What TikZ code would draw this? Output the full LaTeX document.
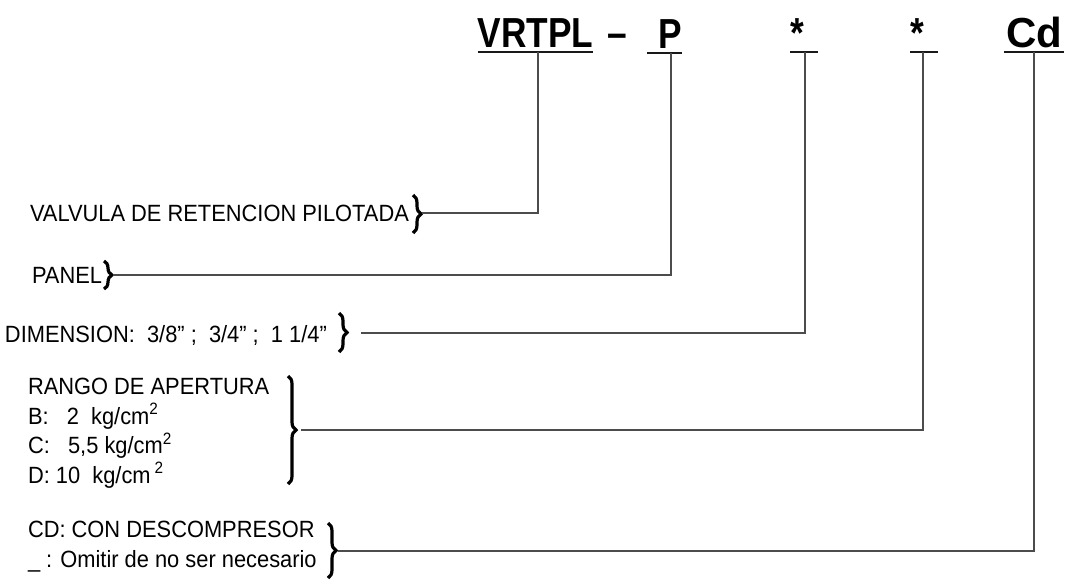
\documentclass[tikz,border=0pt]{standalone}
\usepackage{fontspec}
\setmainfont{Liberation Sans}[FakeStretch=0.93]
\newfontfamily\codefont{Liberation Sans}[FakeStretch=0.84]
\newfontfamily\cdfont{Liberation Sans}
\usetikzlibrary{decorations.pathreplacing}

\begin{document}
\begin{tikzpicture}[x=1pt, y=-1pt,
    every node/.style={inner sep=0pt, outer sep=0pt},
    code/.style ={anchor=south, text depth=0pt, inner ysep=5pt,
                  font=\codefont\bfseries\fontsize{42}{42}\selectfont},
    lbl/.style  ={anchor=base west, align=left,
                  font=\fontsize{23.5}{29.5}\selectfont},
    uline/.style={draw=black!90, line width=2pt},
    conn/.style ={draw=black!70, line width=1.1pt},
    brc/.style  ={decorate, decoration={brace, amplitude=8pt}, line width=3.2pt}]

\useasboundingbox (0,0) rectangle (1065,579);

% ── code: VRTPL - P * * Cd ─────────────────────────────────────────────
\node[code, minimum width=115pt] (vrtpl) at (535.5,52) {VRTPL};
\node[code] (dash) at (617,52) {\textendash};
\node[code, text width=35pt, align=right] (pan) at (664.5,53) {P};
\node[code, text width=28pt, align=left] (dimc) at (804,52) {*};
\node[code, text width=28pt, align=left] (rngc) at (924,52) {*};
\node[code, minimum width=60pt, font=\cdfont\bfseries\fontsize{42}{42}\selectfont]
  (cdc) at (1034,52) {Cd};

\foreach \n in {vrtpl,pan,dimc,rngc,cdc}
  \draw[uline] (\n.south west) -- (\n.south east);

% ── options (multi-line nodes sit on their last baseline) ──────────────
\node[lbl] (valv)  at (30,221) {VALVULA DE RETENCION PILOTADA};
\node[lbl] (panel) at (32,283) {PANEL};
\node[lbl] (dim)   at (5,342)  {DIMENSION:\ \ 3/8” ;\ \ 3/4” ;\ \ 1 1/4”};
\node[lbl] (rango) at (28,483)
  {RANGO DE APERTURA\\B:\ \ \ 2\ \ kg/cm\textsuperscript{2}\\
   C:\ \ \ 5,5 kg/cm\textsuperscript{2}\\D: 10\ \ kg/cm\,\textsuperscript{2}};
\node[lbl, font=\fontsize{23.5}{30}\selectfont] (cdopt) at (28,567)
  {CD: CON DESCOMPRESOR\\\_ : Omitir de no ser necesario};

% braces and where each leader starts
\draw[brc] (413,195) -- (413,233);  \coordinate (tValv)  at (422,213);
\draw[brc] (104,261) -- (104,289);  \coordinate (tPanel) at (113,275);
\draw[brc] (339,313) -- (339,352);  \coordinate (tDim)   at (361,333);
\draw[brc] (288,376) -- (288,484);  \coordinate (tRango) at (301,430);
\draw[brc] (328,523) -- (328,578);  \coordinate (tCd)    at (338,551);

% ── leaders ─────────────────────────────────────────────────────────────
\draw[conn] (tValv)  -| ([xshift=2.5pt]vrtpl.south);
\draw[conn] (tPanel) -| ([xshift=6.5pt]pan.south);
\draw[conn] (tDim)   -| ([xshift=1pt]dimc.south);
\draw[conn] (tRango) -| ([xshift=-1pt]rngc.south);
\draw[conn] (tCd)    -| (cdc.south);
\end{tikzpicture}
\end{document}
